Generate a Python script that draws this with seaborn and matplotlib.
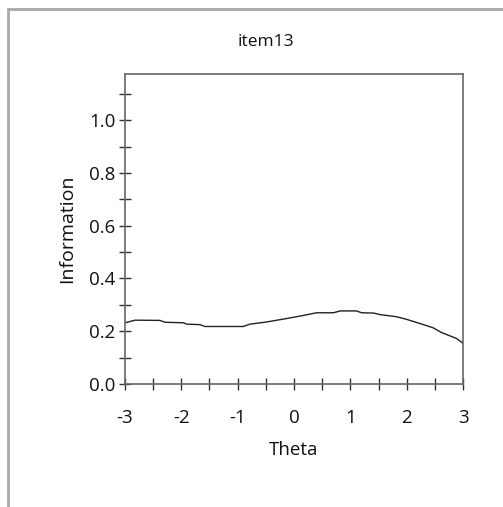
import matplotlib
matplotlib.use("Agg")
import matplotlib.pyplot as plt
import seaborn as sns
import pandas as pd
from matplotlib.lines import Line2D
from matplotlib.ticker import MultipleLocator

# item information curve
theta = [-3.0, -2.82, -2.38, -2.29, -1.96, -1.91, -1.67, -1.58, -0.90, -0.78,
         -0.49, -0.19, 0.02, 0.17, 0.40, 0.70, 0.82, 1.11, 1.20, 1.41,
         1.53, 1.82, 2.00, 2.24, 2.47, 2.62, 2.89, 3.0]
information = [0.232, 0.242, 0.241, 0.234, 0.232, 0.227, 0.225, 0.218, 0.218, 0.227,
               0.235, 0.246, 0.254, 0.260, 0.270, 0.270, 0.277, 0.277, 0.270, 0.269,
               0.263, 0.255, 0.245, 0.229, 0.213, 0.195, 0.172, 0.154]

df = pd.DataFrame({"Theta": theta, "Information": information})

sns.set_style("white")
plt.rcParams["font.family"] = ["Open Sans", "DejaVu Sans"]

fig = plt.figure(figsize=(5.03, 5.07), dpi=100)
ax = fig.add_axes([0.2485, 0.2426, 0.672, 0.6114])

sns.lineplot(data=df, x="Theta", y="Information", ax=ax, color="#222222", linewidth=1.0)

ax.set_xlim(-3, 3)
ax.set_ylim(0, 1.175)
ax.xaxis.set_major_locator(MultipleLocator(1))
ax.xaxis.set_minor_locator(MultipleLocator(0.5))
ax.yaxis.set_major_locator(MultipleLocator(0.2))
ax.yaxis.set_minor_locator(MultipleLocator(0.1))
ax.yaxis.set_major_formatter(plt.FormatStrFormatter("%.1f"))
ax.xaxis.set_major_formatter(plt.FuncFormatter(lambda v, p: "%d" % v))

ax.tick_params(axis="both", which="both", direction="inout", length=8, width=1,
               color="#333333", labelsize=13.5, labelcolor="#111111")
ax.tick_params(axis="x", which="major", pad=14)
ax.tick_params(axis="y", which="major", pad=3)
ax.tick_params(left=True, bottom=True, which="both")

for side, sp in ax.spines.items():
    sp.set_color("#666666")
    sp.set_linewidth(1.2)

ax.set_xlabel("Theta", fontsize=13.5, color="#111111", labelpad=10)
ax.set_ylabel("Information", fontsize=14, color="#111111", labelpad=9)
fig.text(266 / 503, 1 - 42 / 507, "item13", fontsize=12.5, color="#111111",
         ha="center", va="center")

# outer frame lines (top and left only)
fig.add_artist(Line2D([8 / 503, 1], [1 - 9 / 507, 1 - 9 / 507], transform=fig.transFigure,
                      color="#a8a8a8", linewidth=2))
fig.add_artist(Line2D([8 / 503, 8 / 503], [0, 1 - 9 / 507], transform=fig.transFigure,
                      color="#a8a8a8", linewidth=2))

fig.savefig("out.png", dpi=100)
